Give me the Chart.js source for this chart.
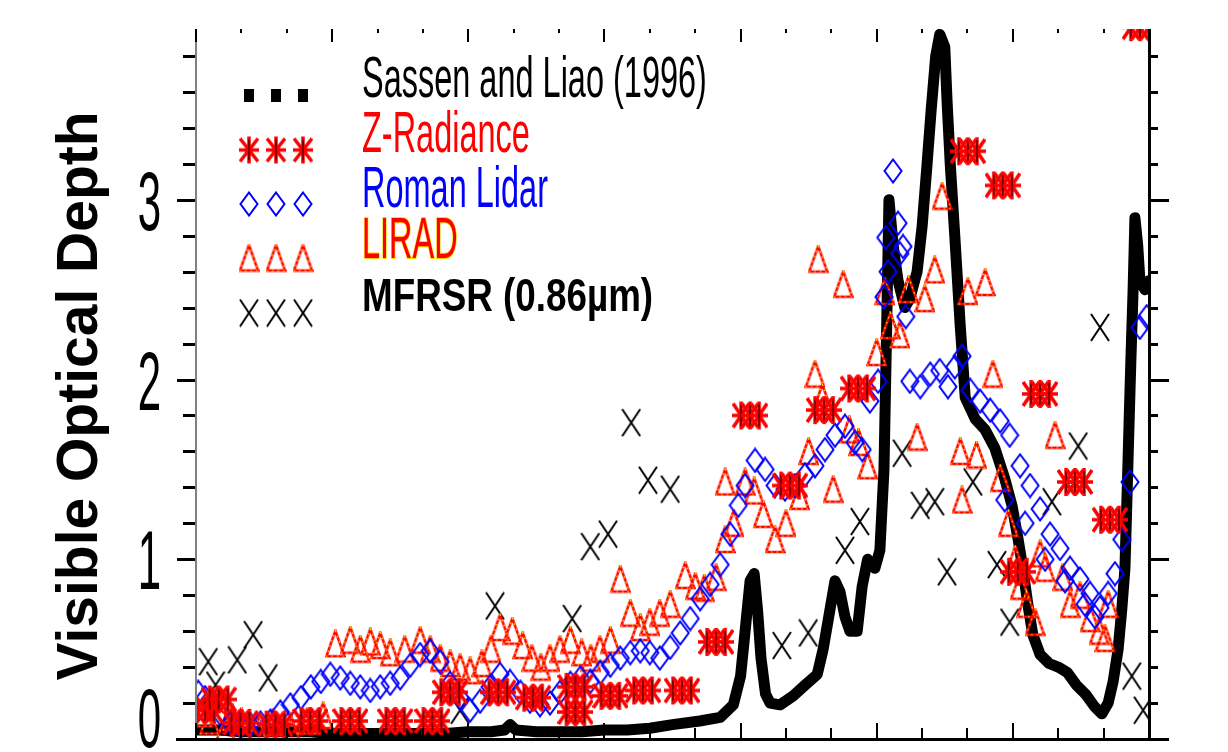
<!DOCTYPE html>
<html lang="en">
<head>
<meta charset="UTF-8">
<title>Visible Optical Depth</title>
<script src="https://cdn.jsdelivr.net/npm/chart.js"></script>
<style>
    html, body { margin: 0; padding: 0; background: #fff; }
    #wrap { width: 1228px; height: 752px; }
</style>
</head>
<body>
<div id="wrap"><canvas id="chart" width="1228" height="752"></canvas></div>

<script>
// ---- data (x in axis units 0..21, y = visible optical depth) ----
const sassenX = [0, 0.5, 1, 1.5, 2, 2.5, 3, 3.5, 4, 4.5, 5, 5.5, 6, 6.5, 6.8, 6.92, 7.05, 7.5, 8, 8.5,
    9, 9.5, 10, 10.5, 11.1, 11.55, 11.84, 12.0, 12.1, 12.21, 12.3, 12.38, 12.45, 12.55, 12.65, 12.87, 13.16, 13.42, 13.69, 13.82,
    13.97, 14.08, 14.19, 14.3, 14.41, 14.57, 14.68, 14.8, 14.96, 15.07, 15.16, 15.22, 15.27, 15.36, 15.47, 15.62, 15.73, 15.89, 16.0, 16.11,
    16.2, 16.3, 16.39, 16.5, 16.55, 16.62, 16.72, 16.84, 16.95, 17.17, 17.39, 17.6, 17.82, 17.98, 18.11, 18.22, 18.33, 18.44, 18.6, 18.8,
    19.0, 19.2, 19.4, 19.6, 19.8, 19.96, 20.1, 20.21, 20.32, 20.4, 20.47, 20.51, 20.56, 20.6, 20.65, 20.69, 20.75, 20.8, 20.91, 21.0];
const sassenY = [0.05, 0.05, 0.04, 0.04, 0.04, 0.04, 0.03, 0.03, 0.03, 0.03, 0.03, 0.03, 0.04, 0.04, 0.05, 0.08, 0.05, 0.04, 0.04, 0.04,
    0.05, 0.05, 0.06, 0.08, 0.1, 0.12, 0.19, 0.35, 0.6, 0.88, 0.92, 0.7, 0.45, 0.25, 0.2, 0.19, 0.24, 0.3, 0.36, 0.5,
    0.72, 0.88, 0.82, 0.68, 0.6, 0.6, 0.85, 1.0, 0.95, 1.05, 1.5, 2.3, 3.0, 2.75, 2.55, 2.4, 2.45, 2.6, 2.85, 3.2,
    3.5, 3.8, 3.92, 3.85, 3.55, 3.2, 2.8, 2.3, 1.9, 1.78, 1.72, 1.62, 1.45, 1.3, 1.12, 0.95, 0.75, 0.58, 0.47, 0.42,
    0.4, 0.37, 0.3, 0.25, 0.18, 0.14, 0.2, 0.32, 0.5, 0.72, 0.95, 1.3, 1.75, 2.1, 2.5, 2.9, 2.75, 2.55, 2.5, 2.55];

const zradX = [0.2, 0.5, 0.98, 1.75, 2.52, 3.4, 4.39, 5.21, 5.6, 6.66, 7.43, 8.36, 8.36, 9.13, 9.85, 10.71, 11.46, 12.21, 13.09, 13.84,
    14.59, 17.01, 17.78, 18.11, 18.6, 19.37, 20.14, 20.8];
const zradY = [0.16, 0.22, 0.09, 0.08, 0.1, 0.1, 0.1, 0.1, 0.26, 0.26, 0.23, 0.29, 0.15, 0.24, 0.27, 0.27, 0.54, 1.8, 1.41, 1.83,
    1.95, 3.27, 3.08, 0.93, 1.92, 1.43, 1.22, 3.96];

const romanX = [0.05, 0.2, 0.36, 0.54, 0.76, 0.98, 1.2, 1.42, 1.64, 1.86, 2.08, 2.31, 2.53, 2.75, 2.96, 3.18, 3.4, 3.62, 3.84, 4.06,
    4.28, 4.5, 4.72, 4.94, 5.16, 5.38, 5.6, 5.82, 6.04, 6.26, 6.48, 6.7, 6.92, 7.15, 7.36, 7.58, 7.8, 8.02, 8.25, 8.47,
    8.69, 8.91, 9.13, 9.35, 9.57, 9.79, 10.0, 10.22, 10.45, 10.67, 10.89, 11.11, 11.33, 11.55, 11.77, 11.95, 12.1, 12.32, 12.54, 12.76,
    12.98, 13.2, 13.42, 13.64, 13.86, 14.08, 14.3, 14.52, 14.68, 14.85, 15.03, 15.16, 15.2, 15.25, 15.36, 15.47, 15.51, 15.58, 15.64, 15.73,
    15.96, 16.18, 16.39, 16.57, 16.72, 16.88, 17.06, 17.28, 17.5, 17.72, 17.82, 17.93, 18.16, 18.27, 18.38, 18.6, 18.71, 18.82, 19.04, 19.15,
    19.26, 19.48, 19.59, 19.7, 19.81, 19.92, 20.1, 20.25, 20.4, 20.58, 20.8, 20.95];
const romanY = [0.26, 0.23, 0.19, 0.14, 0.09, 0.07, 0.08, 0.09, 0.1, 0.15, 0.19, 0.23, 0.29, 0.32, 0.36, 0.34, 0.31, 0.29, 0.27, 0.29,
    0.31, 0.34, 0.41, 0.47, 0.49, 0.43, 0.31, 0.23, 0.16, 0.21, 0.29, 0.36, 0.32, 0.26, 0.21, 0.19, 0.2, 0.26, 0.31, 0.34,
    0.32, 0.37, 0.41, 0.45, 0.48, 0.49, 0.48, 0.45, 0.51, 0.59, 0.67, 0.78, 0.86, 0.97, 1.14, 1.3, 1.41, 1.55, 1.5, 1.41,
    1.39, 1.41, 1.47, 1.52, 1.61, 1.69, 1.74, 1.65, 1.61, 1.88, 1.99, 2.46, 2.79, 2.6, 3.16, 2.87, 2.7, 2.74, 2.35, 1.99,
    1.96, 2.03, 2.05, 1.96, 2.07, 2.13, 1.94, 1.88, 1.83, 1.77, 1.33, 1.69, 1.52, 1.2, 1.41, 1.28, 1.0, 1.14, 1.06, 0.88,
    0.95, 0.89, 0.75, 0.81, 0.68, 0.73, 0.81, 0.92, 1.11, 1.43, 2.29, 2.35];

const liradX = [0.15, 0.3, 0.65, 0.8, 1.0, 1.35, 1.7, 2.1, 2.45, 2.8, 3.07, 3.4, 3.62, 3.84, 4.06, 4.28, 4.6, 4.94, 5.16, 5.38,
    5.6, 5.82, 6.04, 6.3, 6.5, 6.7, 6.97, 7.2, 7.4, 7.6, 7.8, 8.02, 8.25, 8.5, 8.7, 8.9, 9.13, 9.35, 9.57, 9.79,
    10.0, 10.22, 10.45, 10.78, 11.0, 11.2, 11.46, 11.66, 11.85, 11.66, 12.1, 12.3, 12.5, 12.76, 13.0, 13.3, 13.5, 13.64, 13.71, 13.8,
    14.04, 14.26, 14.4, 14.6, 14.8, 15.0, 15.18, 15.3, 15.51, 15.7, 15.89, 16.06, 16.28, 16.44, 16.84, 16.88, 17.01, 17.2, 17.39, 17.56,
    17.72, 17.9, 18.05, 18.16, 18.3, 18.49, 18.6, 18.71, 18.93, 19.1, 19.26, 19.48, 19.7, 19.9, 20.03, 20.1];
const liradY = [0.14, 0.1, 0.06, 0.12, 0.1, 0.06, 0.09, 0.05, 0.1, 0.13, 0.53, 0.55, 0.5, 0.54, 0.52, 0.48, 0.5, 0.55, 0.5, 0.45,
    0.42, 0.4, 0.38, 0.42, 0.5, 0.62, 0.6, 0.52, 0.45, 0.4, 0.45, 0.5, 0.55, 0.48, 0.45, 0.5, 0.55, 0.89, 0.7, 0.62,
    0.65, 0.7, 0.75, 0.91, 0.85, 0.84, 0.9, 1.11, 1.2, 1.43, 1.43, 1.38, 1.25, 1.11, 1.2, 1.35, 1.6, 2.03, 2.67, 1.9,
    1.39, 2.53, 1.72, 1.65, 1.52, 2.15, 2.49, 2.3, 2.25, 2.5, 1.68, 2.45, 2.61, 3.02, 1.6, 1.33, 2.49, 1.58, 2.54, 2.03,
    1.45, 1.2, 1.0, 0.85, 0.75, 0.65, 1.03, 0.95, 1.69, 0.9, 0.75, 0.8, 0.67, 0.6, 0.56, 0.75];

const mfrsrX = [0.27, 0.43, 0.91, 1.26, 1.59, 5.82, 6.59, 8.29, 8.69, 9.08, 9.59, 9.96, 10.45, 12.91, 13.49, 14.3, 14.63, 15.56, 15.96, 16.28,
    16.55, 17.12, 17.65, 17.93, 18.86, 19.44, 19.92, 20.62, 20.87];
const mfrsrY = [0.43, 0.3, 0.44, 0.58, 0.34, 0.16, 0.74, 0.67, 1.07, 1.14, 1.76, 1.44, 1.39, 0.52, 0.59, 1.05, 1.21, 1.59, 1.3, 1.32,
    0.93, 1.43, 0.97, 0.65, 1.32, 1.63, 2.29, 0.35, 0.16];

// axes
const xTicks = [0, 1, 2, 3, 4, 5, 6, 7, 8, 9, 10, 11, 12, 13, 14, 15, 16, 17, 18, 19, 20, 21];
const yMajorTicks = [0, 1, 2, 3];
const yTickLabels = ['0', '1', '2', '3'];
const yMinorTicks = [0.2, 0.4, 0.6, 0.8, 1.2, 1.4, 1.6, 1.8, 2.2, 2.4, 2.6, 2.8, 3.2, 3.4, 3.6, 3.8];

const seriesNames = ['Sassen and Liao (1996)', 'Z-Radiance', 'Roman Lidar', 'LIRAD', 'MFRSR (0.86\u00b5m)'];

// ---- marker images ----
function marker(w, h, paint) {
    const c = document.createElement('canvas');
    c.width = w; c.height = h;
    paint(c.getContext('2d'), w, h);
    return c;
}
function asterisk(g, cx, w, h) {
    const l = cx - w / 2, r = cx + w / 2;
    g.beginPath();
    g.moveTo(l, h / 2); g.lineTo(r, h / 2);
    g.moveTo(l + 1, 3); g.lineTo(r - 1, h - 3);
    g.moveTo(r - 1, 3); g.lineTo(l + 1, h - 3);
    g.moveTo(cx, 1); g.lineTo(cx, h - 1);
    g.strokeStyle = '#ff0000'; g.lineWidth = 3.5; g.stroke();
    g.beginPath();
    g.moveTo(cx, 4); g.lineTo(cx, h - 4);
    g.strokeStyle = '#000'; g.lineWidth = 1; g.stroke();
}
const dotImg = marker(10, 13, (g, w, h) => { g.fillStyle = '#000'; g.fillRect(0, 0, w, h); });
const starImg = marker(20, 29, (g, w, h) => asterisk(g, w / 2, w, h));
const starBlockImg = marker(36, 30, (g, w, h) => { asterisk(g, 9, 18, h); asterisk(g, 18, 18, h); asterisk(g, 27, 18, h); });
const diamondImg = marker(20, 26, (g, w, h) => {
    g.beginPath();
    g.moveTo(w / 2, 1.5); g.lineTo(w - 1.5, h / 2); g.lineTo(w / 2, h - 1.5); g.lineTo(1.5, h / 2); g.closePath();
    g.strokeStyle = '#0000ff'; g.lineWidth = 2; g.stroke();
});
const triImg = marker(21, 29, (g, w, h) => {
    g.beginPath();
    g.moveTo(w / 2, 1.5); g.lineTo(w - 1.5, h - 2); g.lineTo(1.5, h - 2); g.closePath();
    g.strokeStyle = '#ff0000'; g.lineWidth = 2.5; g.stroke();
    g.setLineDash([1.5, 4]); g.strokeStyle = '#ffff00'; g.lineWidth = 1.2; g.stroke();
});
const crossImg = marker(20, 29, (g, w, h) => {
    g.beginPath();
    g.moveTo(1, 1); g.lineTo(w - 1, h - 1);
    g.moveTo(w - 1, 1); g.lineTo(1, h - 1);
    g.strokeStyle = '#000'; g.lineWidth = 2; g.stroke();
});

const pts = (xs, ys) => xs.map((x, i) => ({ x: x, y: ys[i] }));

// ---- axes, labels and legend drawn on top ----
const framePlugin = {
    id: 'frame',
    afterDraw(chart) {
        const ctx = chart.ctx, a = chart.chartArea;
        const x = chart.scales.x, y = chart.scales.y;
        ctx.save();

        // axis lines
        ctx.fillStyle = '#808080';
        ctx.fillRect(a.left - 1, a.top, 2, a.bottom - a.top);
        ctx.fillStyle = '#000';
        ctx.fillRect(a.right - 1, a.top, 3, a.bottom - a.top + 2);
        ctx.fillRect(a.left - 20, a.bottom - 1, a.right - a.left + 22, 3);

        // y ticks (left outside, right outside)
        yMajorTicks.concat(yMinorTicks).forEach(v => {
            const py = Math.round(y.getPixelForValue(v));
            const major = yMajorTicks.includes(v);
            const len = major ? 19 : 13;
            ctx.fillRect(a.left - len, py - 1, len - 1, 3);
            ctx.fillRect(a.right, py - 1, major ? 20 : 9, 3);
        });

        // x ticks (bottom and top, inside)
        xTicks.forEach(v => {
            const px = Math.round(x.getPixelForValue(v));
            const major = v % 3 === 0;
            ctx.fillRect(px - 1, a.bottom - (major ? 16 : 11), 2, major ? 16 : 11);
            ctx.fillRect(px - 1, a.top, 2, major ? 13 : 4);
        });

        // y tick labels (tall, narrow)
        ctx.font = '84px "Liberation Sans", Arial, sans-serif';
        ctx.textAlign = 'right';
        ctx.textBaseline = 'alphabetic';
        yMajorTicks.forEach((v, i) => {
            const cy = Math.min(y.getPixelForValue(v), chart.height - 35);
            ctx.save();
            ctx.translate(161, cy + 30);
            ctx.scale(0.5, 1);
            ctx.fillText(yTickLabels[i], 0, 0);
            ctx.restore();
        });

        // y title
        ctx.save();
        ctx.translate(97, 396);
        ctx.rotate(-Math.PI / 2);
        ctx.font = 'bold 57px "Liberation Sans", Arial, sans-serif';
        ctx.textAlign = 'center';
        ctx.fillText('Visible Optical Depth', 0, 0);
        ctx.restore();

        // legend
        const symX = [249, 276, 303];
        const rows = [
            { img: dotImg, cy: 95, base: 97, color: '#000', font: '58px "Liberation Sans", Arial, sans-serif', sx: 0.56 },
            { img: starImg, cy: 150, base: 152, color: '#ff0000', font: '58px "Liberation Sans", Arial, sans-serif', sx: 0.56 },
            { img: diamondImg, cy: 204, base: 207, color: '#0000ff', font: '58px "Liberation Sans", Arial, sans-serif', sx: 0.56 },
            { img: triImg, cy: 258, base: 258, color: '#ff0000', font: '58px "Liberation Sans", Arial, sans-serif', sx: 0.56, edge: '#ffd800' },
            { img: crossImg, cy: 313, base: 311, color: '#000', font: 'bold 46px "Liberation Sans", Arial, sans-serif', sx: 0.8 }
        ];
        ctx.textAlign = 'left';
        rows.forEach((r, i) => {
            symX.forEach(sx => ctx.drawImage(r.img, sx - r.img.width / 2, r.cy - r.img.height / 2));
            ctx.save();
            ctx.translate(362, r.base);
            ctx.scale(r.sx, 1);
            ctx.font = r.font;
            if (r.edge) {
                ctx.strokeStyle = r.edge;
                ctx.lineWidth = 2;
                ctx.strokeText(seriesNames[i], 0, 0);
            }
            ctx.fillStyle = r.color;
            ctx.fillText(seriesNames[i], 0, 0);
            ctx.restore();
        });

        ctx.restore();
    }
};

new Chart(document.getElementById('chart'), {
    type: 'scatter',
    data: {
        datasets: [
            { label: seriesNames[0], data: pts(sassenX, sassenY), showLine: true, borderColor: '#000', borderWidth: 11,
              borderJoinStyle: 'round', borderCapStyle: 'round', pointRadius: 0, order: 5, clip: 0 },
            { label: seriesNames[1], data: pts(zradX, zradY), pointStyle: starBlockImg, pointRadius: 12, order: 1, clip: 0 },
            { label: seriesNames[2], data: pts(romanX, romanY), pointStyle: diamondImg, pointRadius: 10, order: 2, clip: 0 },
            { label: seriesNames[3], data: pts(liradX, liradY), pointStyle: triImg, pointRadius: 10, order: 3, clip: 0 },
            { label: seriesNames[4], data: pts(mfrsrX, mfrsrY), pointStyle: crossImg, pointRadius: 10, order: 4, clip: 0 }
        ]
    },
    options: {
        responsive: false,
        animation: false,
        layout: { padding: { left: 196, right: 79, top: 29, bottom: 5 } },
        plugins: { legend: { display: false }, tooltip: { enabled: false } },
        scales: {
            x: { type: 'linear', min: 0, max: 21, display: false },
            y: { min: 0, max: 3.95, display: false }
        }
    },
    plugins: [framePlugin]
});
</script>
</body>
</html>
